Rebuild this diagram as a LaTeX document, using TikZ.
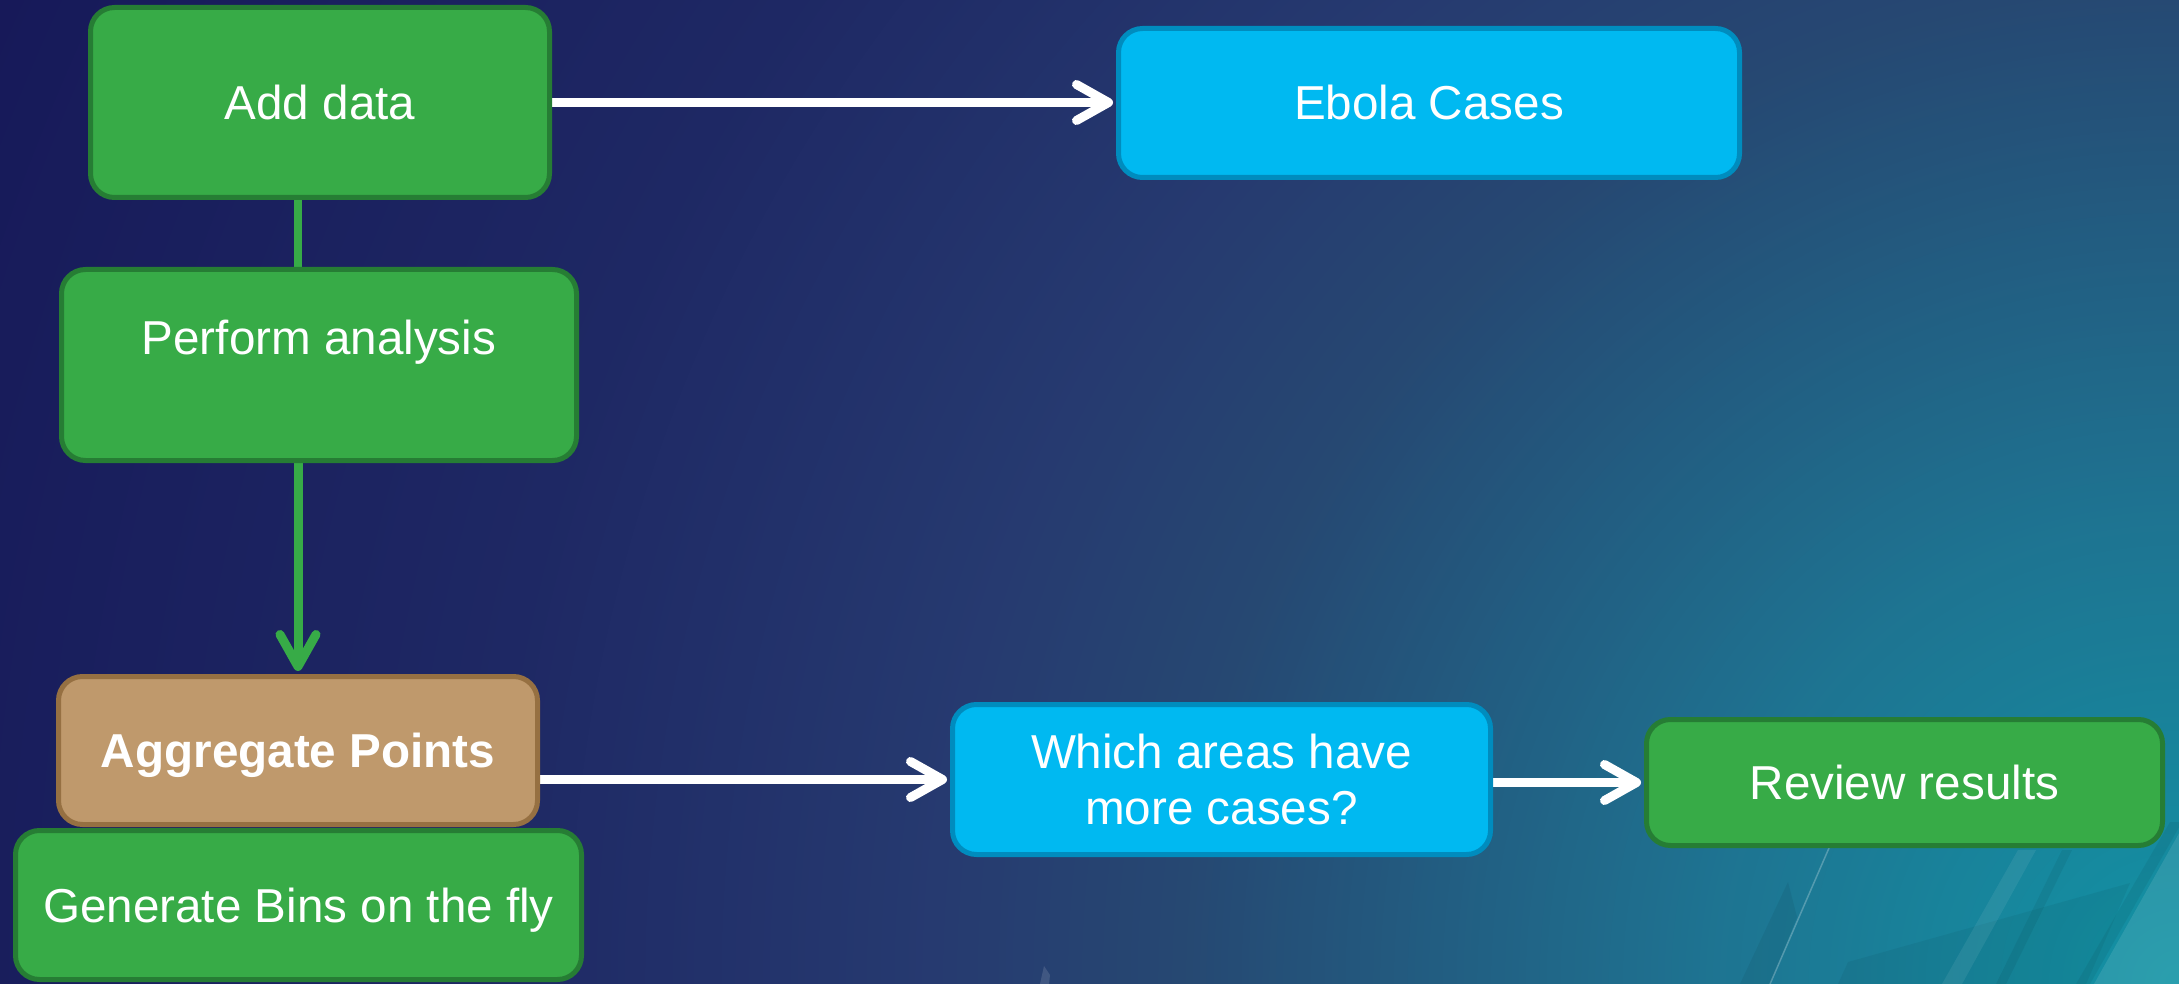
\documentclass[tikz,border=0pt]{standalone}
\usepackage{fontspec}
\setmainfont{Liberation Sans}
\usetikzlibrary{arrows.meta,calc}
\definecolor{bg0}{RGB}{22,24,88}
\definecolor{bg1}{RGB}{30,40,100}
\definecolor{bg2}{RGB}{38,58,112}
\definecolor{bg3}{RGB}{38,72,114}
\definecolor{bg4}{RGB}{30,115,145}
\definecolor{bg5}{RGB}{18,148,165}
\definecolor{gfill}{RGB}{55,171,71}
\definecolor{gline}{RGB}{38,125,52}
\definecolor{bfill}{RGB}{191,153,108}
\definecolor{bline}{RGB}{150,112,66}
\definecolor{cfill}{RGB}{0,185,241}
\definecolor{cline}{RGB}{0,140,190}
\pgfdeclarelayer{bglayer}
\pgfdeclarelayer{edgelayer}
\pgfsetlayers{bglayer,edgelayer,main}
\newcommand\bgseg[5]{%
  \foreach \k [evaluate=\k as \rr using #1+((#2-#1)/#5)*\k,
               evaluate=\k as \pp using (100/#5)*\k] in {0,...,#5}{%
    \fill[#4!\pp!#3] (2179,984) circle[radius=\rr];}}
\begin{document}
\begin{tikzpicture}[x=1pt,y=-1pt,
  box/.style={draw, rounded corners=24pt, line width=5pt, text=white,
    font=\fontsize{47.6}{56}\selectfont, align=center, inner sep=0pt},
  oneline/.style={text height=34pt, text depth=0pt},
  greenbox/.style={box, fill=gfill, draw=gline},
  brownbox/.style={box, fill=bfill, draw=bline},
  cyanbox/.style={box, fill=cfill, draw=cline},
  gconn/.style={draw=gfill, line width=8pt},
  garrow/.style={draw=gfill, line width=9pt, shorten >=3pt,
    -{Straight Barb[length=32pt,width=36pt,round]}},
  warrow/.style={draw=white, line width=9pt, shorten >=3pt,
    -{Straight Barb[length=32pt,width=36pt,round]}}]
\useasboundingbox (0,0) rectangle (2179,984);
\begin{pgfonlayer}{bglayer}
  \begin{scope}
    \clip (0,0) rectangle (2179,984);
    \bgseg{2450}{1700}{bg0}{bg1}{110}
    \bgseg{1700}{1250}{bg1}{bg2}{65}
    \bgseg{1250}{1000}{bg2}{bg3}{36}
    \bgseg{1000}{480}{bg3}{bg4}{75}
    \bgseg{480}{0}{bg4}{bg5}{70}
    \fill[black,opacity=0.06] (2170,822) -- (2182,822) -- (2090,984) -- (2076,984) -- cycle;
    \fill[white,opacity=0.10] (2182,828) -- (2182,984) -- (2094,984) -- cycle;
    \fill[black,opacity=0.05] (1838,984) -- (1848,962) -- (2130,883) -- (2086,984) -- cycle;
    \fill[white,opacity=0.07] (2018,850) -- (2036,850) -- (1962,984) -- (1942,984) -- cycle;
    \fill[black,opacity=0.06] (2062,850) -- (2072,850) -- (2006,984) -- (1996,984) -- cycle;
    \draw[white,opacity=0.25,line width=1.5] (1829,848) -- (1770,984);
    \fill[black,opacity=0.06] (1788,882) -- (1797,917) -- (1770,984) -- (1740,984) -- cycle;
    \fill[white,opacity=0.12] (1044,966) -- (1050,975) -- (1049,984) -- (1040,984) -- cycle;
  \end{scope}
\end{pgfonlayer}

\node[greenbox, oneline, minimum width=459pt, minimum height=190pt] (add) at (320,102.5) {Add data};
\node[greenbox, text height=34pt, text depth=56pt, minimum width=515pt, minimum height=191pt] (perf) at (319,365) {Perform analysis};
\node[cyanbox, oneline, minimum width=621pt, minimum height=149pt] (ebola) at (1429,103) {Ebola Cases};
\node[brownbox, oneline, minimum width=479pt, minimum height=148pt, font=\fontsize{47.6}{56}\selectfont\bfseries] (agg) at (298,750.5) {Aggregate Points};
\node[greenbox, oneline, minimum width=566pt, minimum height=149pt] (gen) at (298.5,905) {Generate Bins on the fly};
\node[cyanbox, minimum width=538pt, minimum height=150pt] (which) at (1221.5,779.5) {Which areas have\\more cases?};
\node[greenbox, oneline, minimum width=516pt, minimum height=126pt] (review) at (1904.5,782.5) {Review results};

\begin{pgfonlayer}{edgelayer}
  \draw[gconn] (add.south -| agg.north) -- (perf.north -| agg.north);
  \draw[garrow] (perf.south -| agg.north) -- (agg.north);
  \draw[warrow] (add.east) -- (add.east -| ebola.west);
  \draw[warrow] (agg.east |- which.west) -- (which.west);
  \draw[warrow] (which.east |- review.west) -- (review.west);
\end{pgfonlayer}
\end{tikzpicture}
\end{document}
